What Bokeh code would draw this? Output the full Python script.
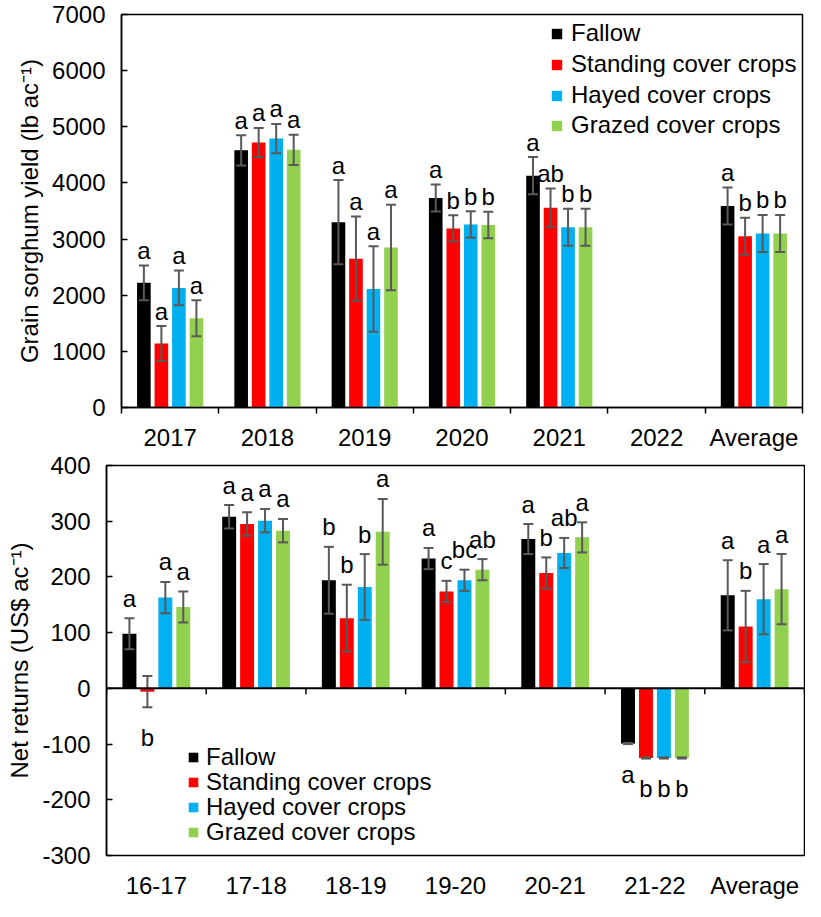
import math
from bokeh.plotting import figure
from bokeh.models import (ColumnDataSource, Whisker, TeeHead, Legend, LegendItem,
                          FixedTicker, Span, Range1d)
from bokeh.layouts import column
from bokeh.core.properties import value
from bokeh.embed import file_html
from bokeh.resources import INLINE

nan = float("nan")

treatments = ["Fallow", "Standing cover crops", "Hayed cover crops", "Grazed cover crops"]
colors = ["#000000", "#FF0000", "#00B0F0", "#92D050"]

# ---------------- Grain sorghum yield (lb/ac) ----------------
yield_years = ["2017", "2018", "2019", "2020", "2021", "2022", "Average"]
yield_fallow = [2220, 4580, 3300, 3730, 4130, nan, 3590]
yield_standing = [1140, 4720, 2650, 3190, 3560, nan, 3050]
yield_hayed = [2130, 4790, 2110, 3260, 3210, nan, 3100]
yield_grazed = [1590, 4590, 2850, 3250, 3210, nan, 3100]
yield_fallow_err = [310, 270, 750, 240, 330, nan, 330]
yield_standing_err = [310, 260, 750, 235, 340, nan, 330]
yield_hayed_err = [310, 260, 760, 235, 330, nan, 330]
yield_grazed_err = [320, 270, 760, 235, 330, nan, 330]
yield_fallow_letters = ["a", "a", "a", "a", "a", "", "a"]
yield_standing_letters = ["a", "a", "a", "b", "ab", "", "b"]
yield_hayed_letters = ["a", "a", "a", "b", "b", "", "b"]
yield_grazed_letters = ["a", "a", "a", "b", "b", "", "b"]
yield_ticks = [0, 1000, 2000, 3000, 4000, 5000, 6000, 7000]

# ---------------- Net returns (US$/ac) ----------------
returns_seasons = ["16-17", "17-18", "18-19", "19-20", "20-21", "21-22", "Average"]
returns_fallow = [98, 308, 194, 233, 268, -99, 167]
returns_standing = [-6, 295, 126, 174, 207, -125, 111]
returns_hayed = [163, 301, 182, 194, 243, -125, 160]
returns_grazed = [146, 283, 281, 213, 271, -125, 178]
returns_fallow_err = [28, 21, 60, 19, 27, 1, 63]
returns_standing_err = [28, 21, 60, 19, 28, 1, 64]
returns_hayed_err = [28, 21, 59, 19, 27, 1, 63]
returns_grazed_err = [28, 21, 59, 19, 27, 1, 63]
returns_fallow_letters = ["a", "a", "b", "a", "a", "a", "a"]
returns_standing_letters = ["b", "a", "b", "c", "b", "b", "b"]
returns_hayed_letters = ["a", "a", "b", "bc", "ab", "b", "a"]
returns_grazed_letters = ["a", "a", "a", "ab", "a", "b", "a"]
returns_ticks = [-300, -200, -100, 0, 100, 200, 300, 400]

FONT = "Liberation Sans"
FS = "24px"
ERR_COLOR = "#595959"
BAR_W = 0.14
OFFSETS = [-0.27, -0.09, 0.09, 0.27]


def make_chart(cats, series, errs, letters, yticks, ylabel, width, height,
               borders, legend_x, legend_rows, legend_glyph, legend_standoff,
               above_off, zero_axis, xlabel_standoff):
    bl, br, bt, bb = borders
    p = figure(width=width, height=height, output_backend="svg",
               toolbar_location=None, x_range=Range1d(0, len(cats)),
               y_range=Range1d(yticks[0], yticks[-1]),
               min_border_left=bl, min_border_right=br, min_border_top=bt,
               min_border_bottom=bb)
    p.frame_align = False
    p.xgrid.visible = False
    p.ygrid.visible = False
    p.outline_line_color = "black"
    p.outline_line_width = 1.5
    p.background_fill_color = "white"
    p.border_fill_color = "white"

    renderers = []
    for k, (vals, ev, lets) in enumerate(zip(series, errs, letters)):
        xs, tops, up, lo, ly, loff, lt = [], [], [], [], [], [], []
        for i, (v, e, l) in enumerate(zip(vals, ev, lets)):
            if v is None or (isinstance(v, float) and math.isnan(v)):
                continue
            xs.append(i + 0.5 + OFFSETS[k])
            tops.append(v)
            up.append(v + e)
            lo.append(v - e)
            lt.append(l)
            if v >= 0:
                ly.append(v + e)
                loff.append(above_off)
            else:
                ly.append(v - e)
                loff.append(30)
        src = ColumnDataSource(dict(x=xs, top=tops, upper=up, lower=lo,
                                    ly=ly, loff=loff, letter=lt))
        r = p.vbar(x="x", top="top", bottom=0, width=BAR_W, source=src,
                   fill_color=colors[k], line_color=None)
        renderers.append(r)
        w = Whisker(source=src, base="x", upper="upper", lower="lower",
                    line_color=ERR_COLOR, line_width=2, level="annotation",
                    upper_head=TeeHead(size=10, line_color=ERR_COLOR, line_width=2),
                    lower_head=TeeHead(size=10, line_color=ERR_COLOR, line_width=2))
        p.add_layout(w)
        p.text(x="x", y="ly", text="letter", y_offset="loff", source=src,
               text_align="center", text_baseline="alphabetic",
               text_font=value(FONT), text_font_size=FS, text_color="black")

    centers = [i + 0.5 for i in range(len(cats))]
    bounds = list(range(len(cats) + 1))

    xa = p.xaxis[0]
    xa.major_label_text_font = FONT
    xa.major_label_text_font_size = FS
    xa.major_label_text_color = "black"
    xa.major_label_standoff = xlabel_standoff
    xa.major_tick_line_color = None
    xa.major_tick_in = 0
    xa.major_tick_out = 0
    if zero_axis:
        xa.ticker = FixedTicker(ticks=centers)
        xa.axis_line_color = None
        xa.minor_tick_line_color = None
        p.add_layout(Span(location=0, dimension="width", line_color="black",
                          line_width=2))
        px_per_unit = 389 / (yticks[-1] - yticks[0])
        tick_len = 6 / px_per_unit
        p.segment(x0=bounds, y0=[0] * len(bounds), x1=bounds,
                  y1=[-tick_len] * len(bounds), line_color="black", line_width=1.5)
    else:
        xa.ticker = FixedTicker(ticks=centers, minor_ticks=bounds)
        xa.axis_line_color = "black"
        xa.axis_line_width = 1.5
        xa.minor_tick_line_color = "black"
        xa.minor_tick_line_width = 1.5
        xa.minor_tick_in = 0
        xa.minor_tick_out = 6
    xa.major_label_overrides = {c: name for c, name in zip(centers, cats)}

    ya = p.yaxis[0]
    ya.ticker = FixedTicker(ticks=yticks)
    ya.major_label_overrides = {t: str(t) for t in yticks}
    ya.axis_line_color = "black"
    ya.axis_line_width = 1.5
    ya.major_tick_line_color = "black"
    ya.major_tick_line_width = 1.5
    ya.major_tick_in = 6
    ya.major_tick_out = 0
    ya.minor_tick_line_color = None
    ya.major_label_text_font = FONT
    ya.major_label_text_font_size = FS
    ya.major_label_text_color = "black"
    ya.major_label_standoff = 16
    ya.axis_label = ylabel
    ya.axis_label_text_font = FONT
    ya.axis_label_text_font_size = FS
    ya.axis_label_text_font_style = "normal"
    ya.axis_label_text_color = "black"
    ya.axis_label_standoff = 6

    # one single-entry legend per treatment, so row pitch matches the reference
    for k, r in enumerate(renderers):
        legend = Legend(items=[LegendItem(label=treatments[k], renderers=[r])],
                        location=(legend_x, legend_rows[k]), padding=0, margin=0,
                        glyph_width=legend_glyph, glyph_height=legend_glyph,
                        label_standoff=legend_standoff,
                        label_text_font=FONT, label_text_font_size=FS,
                        label_text_color="black", label_height=legend_glyph,
                        background_fill_alpha=0, border_line_color=None)
        p.add_layout(legend)
    return p


p1 = make_chart(yield_years,
                [yield_fallow, yield_standing, yield_hayed, yield_grazed],
                [yield_fallow_err, yield_standing_err, yield_hayed_err, yield_grazed_err],
                [yield_fallow_letters, yield_standing_letters, yield_hayed_letters,
                 yield_grazed_letters],
                yield_ticks, "Grain sorghum yield (lb ac\u207b\u00b9)",
                805, 453, (121, 3, 14, 40), 429, [360, 329, 298, 268], 13, 8,
                -15, False, 10)

p2 = make_chart(returns_seasons,
                [returns_fallow, returns_standing, returns_hayed, returns_grazed],
                [returns_fallow_err, returns_standing_err, returns_hayed_err,
                 returns_grazed_err],
                [returns_fallow_letters, returns_standing_letters, returns_hayed_letters,
                 returns_grazed_letters],
                returns_ticks, "Net returns (US$ ac\u207b\u00b9)",
                805, 448, (106, 1, 12, 40), 81, [84, 59, 34, 9], 12, 7,
                -20, True, 16)

layout = column(p1, p2, spacing=0)
open("out.html", "w").write(file_html(layout, INLINE))
